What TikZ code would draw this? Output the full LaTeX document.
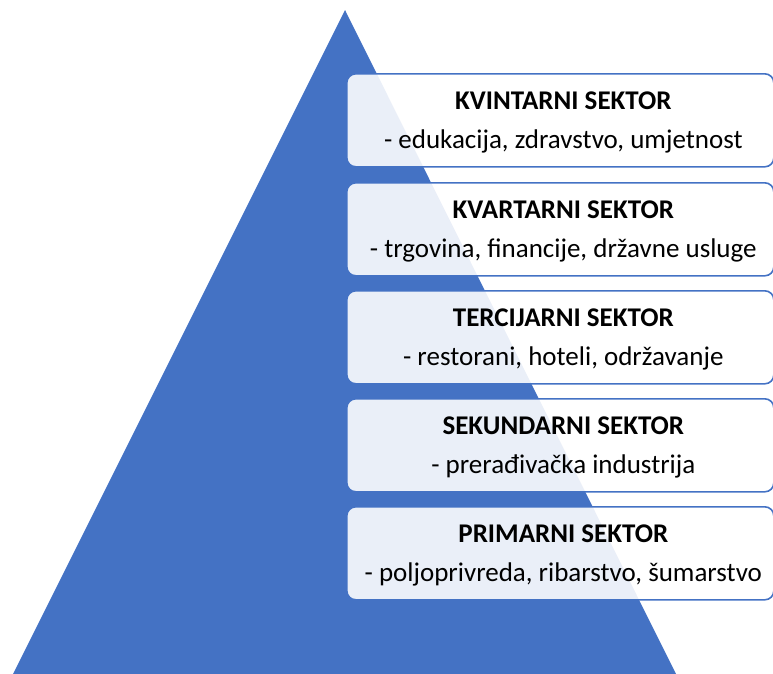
\documentclass[tikz,border=0pt]{standalone}
\usepackage{fontspec}
\setmainfont{Carlito}
\definecolor{accent}{HTML}{4472C4}
\begin{document}
\begin{tikzpicture}[x=1pt,y=-1pt,
  sector/.style={draw=accent,line width=1.6pt,fill=white,fill opacity=0.89,
    rounded corners=9pt,minimum width=427pt,minimum height=93pt,inner sep=0pt,
    anchor=north west},
  txt/.style={anchor=base,inner sep=0pt,font=\fontsize{27}{32}\selectfont},
  ttl/.style={txt,font=\fontsize{27}{32}\selectfont\bfseries}]
\useasboundingbox (0,0) rectangle (773,673);
\fill[accent] (345,10) -- (677,676) -- (12,676) -- cycle;
\foreach \n/\y/\t/\s in {q5/73/KVINTARNI SEKTOR/- edukacija{,} zdravstvo{,} umjetnost,
  q4/182/KVARTARNI SEKTOR/- trgovina{,} financije{,} državne usluge,
  q3/290/TERCIJARNI SEKTOR/- restorani{,} hoteli{,} održavanje,
  q2/398/SEKUNDARNI SEKTOR/- prerađivačka industrija,
  q1/506/PRIMARNI SEKTOR/- poljoprivreda{,} ribarstvo{,} šumarstvo}{
  \node[sector] (\n) at (346,\y) {};
  \node[ttl] (\n t) at ([xshift=3pt,yshift=-36pt]\n.north) {\t};
  \node[txt] (\n s) at ([xshift=3pt,yshift=-75.5pt]\n.north) {\s};
}
\end{tikzpicture}
\end{document}
